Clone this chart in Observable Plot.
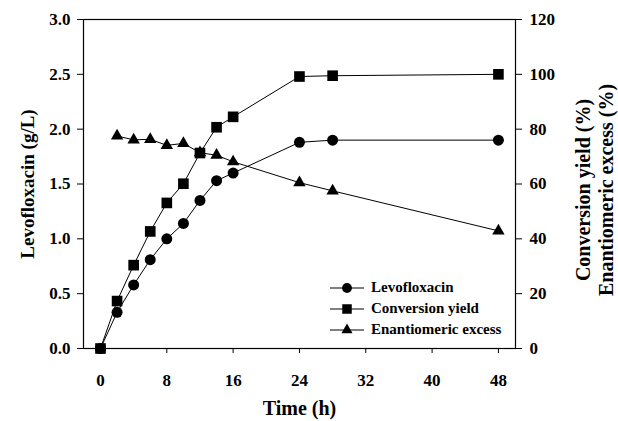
<!DOCTYPE html>
<html>
<head>
<meta charset="utf-8">
<script src="https://cdn.jsdelivr.net/npm/d3@7"></script>
<script src="https://cdn.jsdelivr.net/npm/@observablehq/plot@0.6"></script>
<style>
  html, body { margin: 0; padding: 0; background: white; }
  #wrap { position: relative; width: 618px; height: 421px; }
  #legend { position: absolute; left: 329px; top: 277px; font-family: "Liberation Serif", serif; font-weight: bold; font-size: 15px; color: black; }
  #legend .row { display: flex; align-items: center; height: 21px; }
  #legend svg { display: block; margin-right: 6px; }
</style>
</head>
<body>
<div id="wrap"><div id="legend"></div></div>
<script>
// Data
const time = [0, 2, 4, 6, 8, 10, 12, 14, 16, 24, 28, 48];
const levofloxacin = [0, 0.33, 0.58, 0.81, 1.00, 1.14, 1.35, 1.53, 1.60, 1.88, 1.90, 1.90]; // g/L
const conversionYield = [0, 17.3, 30.4, 42.7, 53.1, 60.1, 71.3, 80.7, 84.5, 99.2, 99.5, 100]; // %
const eeTime = [2, 4, 6, 8, 10, 12, 14, 16, 24, 28, 48];
const enantiomericExcess = [77.5, 76.1, 76.3, 74.1, 74.8, 71.4, 70.5, 68.1, 60.5, 57.5, 42.9]; // %

const xTicks = [0, 8, 16, 24, 32, 40, 48];
const leftTicks = [0, 0.5, 1.0, 1.5, 2.0, 2.5, 3.0];
const rightTicks = [0, 20, 40, 60, 80, 100, 120];
const seriesNames = ["Levofloxacin", "Conversion yield", "Enantiomeric excess"];
const symbols = ["circle", "square", "triangle"];

// right axis (%) shares the left axis pixel range: 120 % <-> 3.0 g/L
const ratio = leftTicks[leftTicks.length - 1] / rightTicks[rightTicks.length - 1];

const levRows = time.map((t, i) => ({t, v: levofloxacin[i]}));
const convRows = time.map((t, i) => ({t, v: conversionYield[i] * ratio}));
const eeRows = eeTime.map((t, i) => ({t, v: enantiomericExcess[i] * ratio}));
const allSeries = [levRows, convRows, eeRows];
const radii = [5.5, 6, 4.6];

const marks = [
  Plot.frame({stroke: "black", strokeWidth: 1.2}),
  Plot.axisX({ticks: xTicks, tickSize: 5, tickPadding: 20, label: null, fontSize: 17}),
  Plot.axisY({ticks: leftTicks, tickFormat: d3.format(".1f"), tickSize: 6, tickPadding: 7, label: null, fontSize: 17}),
  Plot.axisY({anchor: "right", ticks: leftTicks, tickFormat: (d, i) => String(rightTicks[i]), tickSize: 6, tickPadding: 8, label: null, fontSize: 17}),
  Plot.text(["Time (h)"], {frameAnchor: "bottom", dy: 66, fontSize: 20, textAnchor: "middle"}),
  Plot.text(["Levofloxacin (g/L)"], {frameAnchor: "left", dx: -56, rotate: -90, fontSize: 19, textAnchor: "middle"}),
  Plot.text(["Conversion yield (%)"], {frameAnchor: "right", dx: 68, dy: 6, rotate: -90, fontSize: 20, textAnchor: "middle"}),
  Plot.text(["Enantiomeric excess (%)"], {frameAnchor: "right", dx: 91, dy: 6, rotate: -90, fontSize: 20, textAnchor: "middle"})
];
allSeries.forEach((rows, k) => {
  marks.push(Plot.line(rows, {x: "t", y: "v", stroke: "black", strokeWidth: 1}));
  marks.push(Plot.dot(rows, {x: "t", y: "v", symbol: () => symbols[k], fill: "black", stroke: "none", r: radii[k]}));
});

const chart = Plot.plot({
  width: 618,
  height: 421,
  marginLeft: 83,
  marginRight: 103,
  marginTop: 19,
  marginBottom: 73,
  x: {domain: [-2.05, 50.06]},
  y: {domain: [0, 3]},
  symbol: {type: "identity"},
  style: {fontFamily: "Liberation Serif, serif", fontWeight: "bold", fontSize: "17px", background: "white", color: "black"},
  marks
});
const wrap = document.getElementById("wrap");
wrap.insertBefore(chart, wrap.firstChild);

// legend
const legend = d3.select("#legend");
seriesNames.forEach((name, k) => {
  const row = legend.append("div").attr("class", "row");
  const svg = row.append("svg").attr("width", 36).attr("height", 14);
  svg.append("line").attr("x1", 1).attr("x2", 35).attr("y1", 7).attr("y2", 7).attr("stroke", "black").attr("stroke-width", 1);
  svg.append("path").attr("transform", "translate(18,7)")
    .attr("d", d3.symbol(k === 0 ? d3.symbolCircle : k === 1 ? d3.symbolSquare : d3.symbolTriangle, Math.PI * radii[k] * radii[k] * 0.8)())
    .attr("fill", "black");
  row.append("span").text(name);
});
</script>
</body>
</html>
